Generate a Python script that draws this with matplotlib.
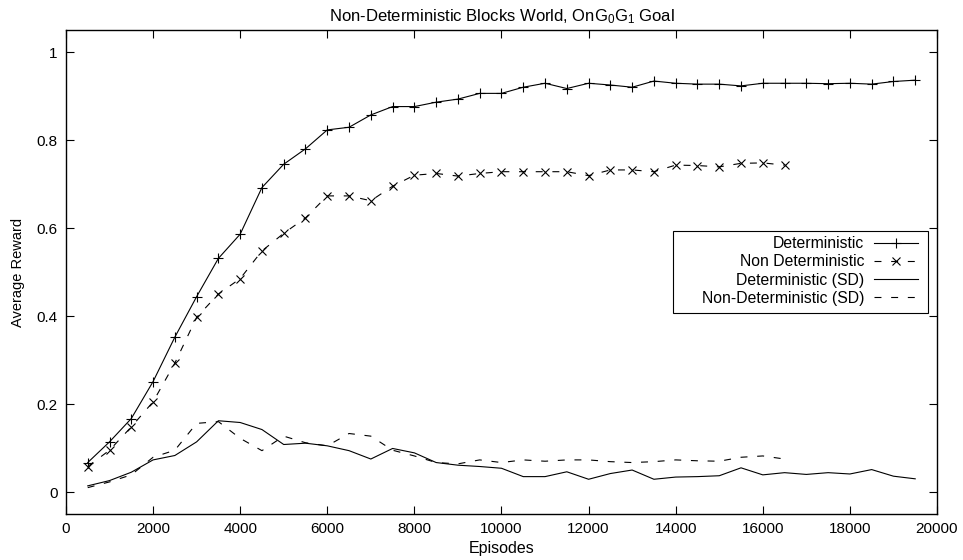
import matplotlib
matplotlib.use("Agg")
import matplotlib.pyplot as plt
from matplotlib.patches import Rectangle

plt.rcParams["font.family"] = ["Liberation Sans", "DejaVu Sans"]
plt.rcParams["mathtext.fontset"] = "custom"
plt.rcParams["mathtext.rm"] = "Liberation Sans"
plt.rcParams["mathtext.it"] = "Liberation Sans"
plt.rcParams["lines.scale_dashes"] = False

# learning curves, sampled every 500 episodes
episodes_det = list(range(500, 20000, 500))
episodes_nondet = list(range(500, 17000, 500))

det_reward = [0.067, 0.114, 0.167, 0.251, 0.352, 0.444, 0.531, 0.586, 0.692, 0.745,
              0.780, 0.823, 0.829, 0.857, 0.876, 0.876, 0.886, 0.893, 0.906, 0.906,
              0.920, 0.929, 0.917, 0.929, 0.925, 0.920, 0.934, 0.929, 0.927, 0.927,
              0.923, 0.929, 0.929, 0.929, 0.928, 0.929, 0.927, 0.933, 0.936]
nondet_reward = [0.058, 0.095, 0.148, 0.205, 0.293, 0.397, 0.450, 0.485, 0.548, 0.588,
                 0.623, 0.673, 0.673, 0.662, 0.695, 0.720, 0.724, 0.718, 0.724, 0.728,
                 0.728, 0.728, 0.728, 0.719, 0.732, 0.732, 0.728, 0.743, 0.742, 0.739,
                 0.747, 0.748, 0.743]
det_sd = [0.014, 0.026, 0.045, 0.073, 0.083, 0.114, 0.162, 0.158, 0.142, 0.108,
          0.111, 0.105, 0.094, 0.075, 0.099, 0.089, 0.067, 0.061, 0.058, 0.054,
          0.035, 0.035, 0.046, 0.029, 0.042, 0.050, 0.029, 0.034, 0.035, 0.037,
          0.055, 0.039, 0.044, 0.040, 0.044, 0.041, 0.051, 0.036, 0.030]
nondet_sd = [0.010, 0.023, 0.039, 0.079, 0.095, 0.156, 0.160, 0.122, 0.094, 0.127,
             0.112, 0.105, 0.133, 0.127, 0.095, 0.082, 0.067, 0.064, 0.073, 0.067,
             0.073, 0.070, 0.073, 0.073, 0.069, 0.067, 0.069, 0.073, 0.071, 0.070,
             0.079, 0.082, 0.075]

x_ticks = list(range(0, 20001, 2000))
y_ticks = [0, 0.2, 0.4, 0.6, 0.8, 1.0]
y_tick_labels = ["0", "0.2", "0.4", "0.6", "0.8", "1"]

fig = plt.figure(figsize=(9.63, 5.6), dpi=100)
ax = fig.add_axes([0.0685, 0.0821, 0.9045, 0.8643])

lw = 0.8
dash = (0, (5, 7))
ax.plot(episodes_det, det_reward, color="black", lw=lw, marker="+",
        markersize=6.5, markeredgewidth=0.8, label="Deterministic")
ax.plot(episodes_nondet, nondet_reward, color="black", lw=lw, ls=dash, marker="x",
        markersize=5.5, markeredgewidth=0.8, label="Non Deterministic")
ax.plot(episodes_det, det_sd, color="black", lw=lw, label="Deterministic (SD)")
ax.plot(episodes_nondet, nondet_sd, color="black", lw=lw, ls=dash,
        label="Non-Deterministic (SD)")

ax.set_xlim(0, 20000)
ax.set_ylim(-0.05, 1.05)
ax.set_xticks(x_ticks)
ax.set_yticks(y_ticks)
ax.set_yticklabels(y_tick_labels)
ax.tick_params(direction="in", length=6, width=0.8, top=True, right=True,
               labelsize=11, pad=6)
for spine in ax.spines.values():
    spine.set_linewidth(1.0)

ax.set_title(r"Non-Deterministic Blocks World, OnG$_0$G$_1$ Goal", fontsize=12, pad=6)
ax.set_xlabel("Episodes", fontsize=11.5, labelpad=3)
ax.set_ylabel("Average Reward", fontsize=10.5, labelpad=8)

# key box is wider than the entries, with extra room on the left
ax.legend(loc="center right", bbox_to_anchor=(0.978, 0.502), markerfirst=False,
          frameon=False, fontsize=11.3, handlelength=2.8, labelspacing=0.2,
          borderpad=0, handletextpad=0.6, borderaxespad=0)
ax.add_patch(Rectangle((0.697, 0.4153), 0.2927, 0.1694, transform=ax.transAxes,
                       facecolor="none", edgecolor="black", lw=0.8, zorder=5))

fig.savefig("out.png", dpi=100)
plt.close(fig)
